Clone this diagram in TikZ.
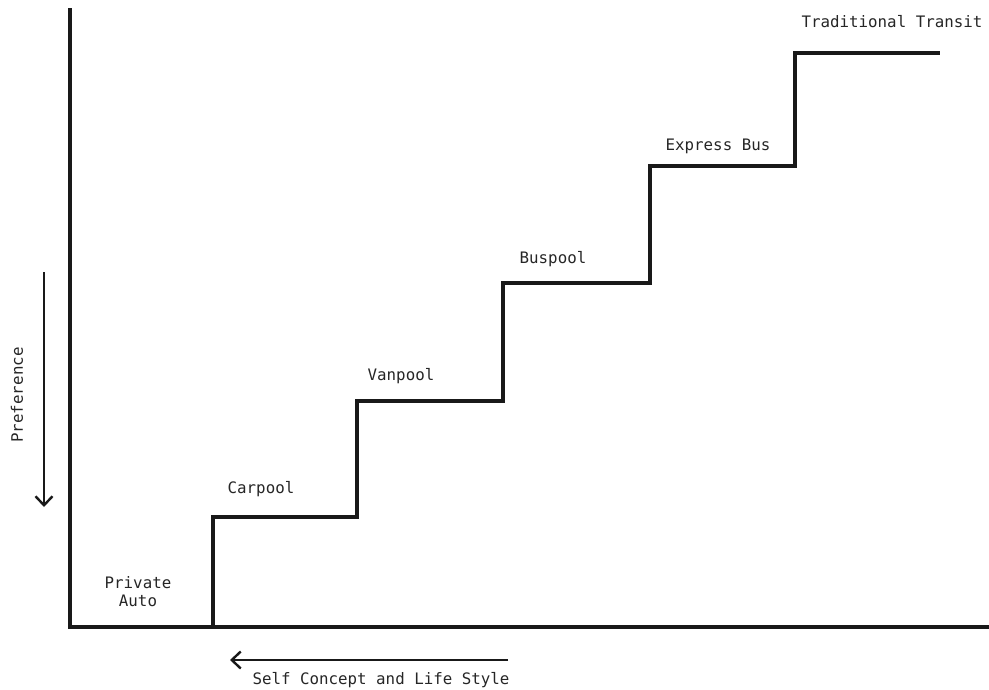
\documentclass[tikz,border=0pt]{standalone}
\usepackage{fontspec}
\setmonofont{DejaVu Sans Mono}
\usetikzlibrary{arrows.meta}
\begin{document}
\begin{tikzpicture}[x=1pt,y=-1pt,
  lbl/.style={font=\ttfamily\fontsize{15.8}{19}\selectfont, inner sep=0pt, text=black!85},
  axis/.style={line width=3.2pt, black!90},
  stair/.style={line width=3.2pt, black!90, line join=miter},
  arr/.style={line width=2.8pt, black!90, -{Straight Barb[length=9pt,width=17pt,line width=2.4pt]}}]
\useasboundingbox (0,0) rectangle (989,689);
% axes
\coordinate (ytop) at (70,8);
\coordinate (origin) at (70,627);
\coordinate (xend) at (989,627);
\draw[axis] (ytop) -- (origin) -- (xend);
% staircase
\coordinate (s0) at (213,627);
\draw[stair] (s0) -- (213,517) -- (357,517) -- (357,401) -- (503,401) -- (503,283)
  -- (650,283) -- (650,166) -- (795,166) -- (795,53) -- (940,53);
% labels
\node[lbl, align=center] (pa) at (138,592) {Private\\[-1pt]Auto};
\node[lbl] (cp) at (261,489) {Carpool};
\node[lbl] (vp) at (401,376) {Vanpool};
\node[lbl] (bp) at (553,259) {Buspool};
\node[lbl] (eb) at (718,146) {Express Bus};
\node[lbl] (tt) at (892,22) {Traditional Transit};
% preference arrow
\coordinate (pa1) at (44,272);
\coordinate (pa2) at (44,507);
\draw[arr] (pa1) -- (pa2);
\node[lbl, rotate=90] (pref) at (17,395) {Preference};
% self concept arrow
\coordinate (sa1) at (508,660);
\coordinate (sa2) at (230,660);
\draw[arr] (sa1) -- (sa2);
\node[lbl] (sc) at (381,680) {Self Concept and Life Style};
\end{tikzpicture}
\end{document}
